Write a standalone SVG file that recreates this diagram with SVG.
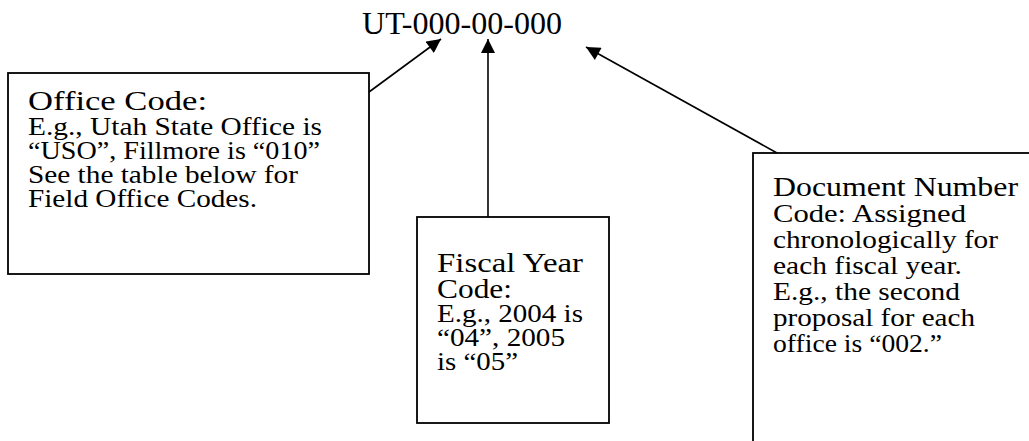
<svg xmlns="http://www.w3.org/2000/svg" width="1029" height="441" viewBox="0 0 1029 441">
<style>
.box{fill:#fff;stroke:#000;stroke-width:1.8}
.t{font-family:"Liberation Serif","Times New Roman",serif;fill:#000}
.h{font-size:28px}
.b{font-size:25px}
.title{font-size:32px}
.con{stroke:#000;stroke-width:1.6;fill:none}
</style>
<defs>
<marker id="ah" viewBox="0 0 10 10" refX="10" refY="5" markerWidth="15" markerHeight="14" markerUnits="userSpaceOnUse" orient="auto">
<path d="M0,0 L10,5 L0,10 z" fill="#000"/>
</marker>
</defs>
<rect width="1029" height="441" fill="#fff"/>
<g id="title">
<text class="t title" x="362" y="34" textLength="200" lengthAdjust="spacingAndGlyphs">UT-000-00-000</text>
</g>
<g id="connectors">
<line class="con" x1="369" y1="92" x2="441" y2="39" marker-end="url(#ah)"/>
<line class="con" x1="488" y1="217" x2="488" y2="39" marker-end="url(#ah)"/>
<line class="con" x1="777" y1="153" x2="586" y2="47" marker-end="url(#ah)"/>
</g>
<g id="office">
<rect class="box" x="8" y="73" width="361" height="201"/>
<text class="t h" x="28" y="110" textLength="179" lengthAdjust="spacingAndGlyphs">Office Code:</text>
<text class="t b" x="28" y="135" textLength="294" lengthAdjust="spacingAndGlyphs">E.g., Utah State Office is</text>
<text class="t b" x="28" y="159" textLength="292" lengthAdjust="spacingAndGlyphs">“USO”, Fillmore is “010”</text>
<text class="t b" x="28" y="183" textLength="270" lengthAdjust="spacingAndGlyphs">See the table below for</text>
<text class="t b" x="28" y="207" textLength="229" lengthAdjust="spacingAndGlyphs">Field Office Codes.</text>
</g>
<g id="fiscal">
<rect class="box" x="417" y="217" width="192" height="206"/>
<text class="t h" x="437" y="272" textLength="146" lengthAdjust="spacingAndGlyphs">Fiscal Year</text>
<text class="t h" x="437" y="298" textLength="75" lengthAdjust="spacingAndGlyphs">Code:</text>
<text class="t b" x="437" y="322" textLength="146" lengthAdjust="spacingAndGlyphs">E.g., 2004 is</text>
<text class="t b" x="437" y="346" textLength="128" lengthAdjust="spacingAndGlyphs">“04”, 2005</text>
<text class="t b" x="437" y="370" textLength="81" lengthAdjust="spacingAndGlyphs">is “05”</text>
</g>
<g id="document">
<rect class="box" x="753" y="153" width="300" height="320"/>
<text class="t h" x="773" y="196" textLength="245" lengthAdjust="spacingAndGlyphs">Document Number</text>
<text class="t b" x="773" y="222" textLength="193" lengthAdjust="spacingAndGlyphs">Code: Assigned</text>
<text class="t b" x="773" y="248" textLength="225" lengthAdjust="spacingAndGlyphs">chronologically for</text>
<text class="t b" x="773" y="274" textLength="189" lengthAdjust="spacingAndGlyphs">each fiscal year.</text>
<text class="t b" x="773" y="300" textLength="187" lengthAdjust="spacingAndGlyphs">E.g., the second</text>
<text class="t b" x="773" y="326" textLength="202" lengthAdjust="spacingAndGlyphs">proposal for each</text>
<text class="t b" x="773" y="352" textLength="169" lengthAdjust="spacingAndGlyphs">office is “002.”</text>
</g>
</svg>
